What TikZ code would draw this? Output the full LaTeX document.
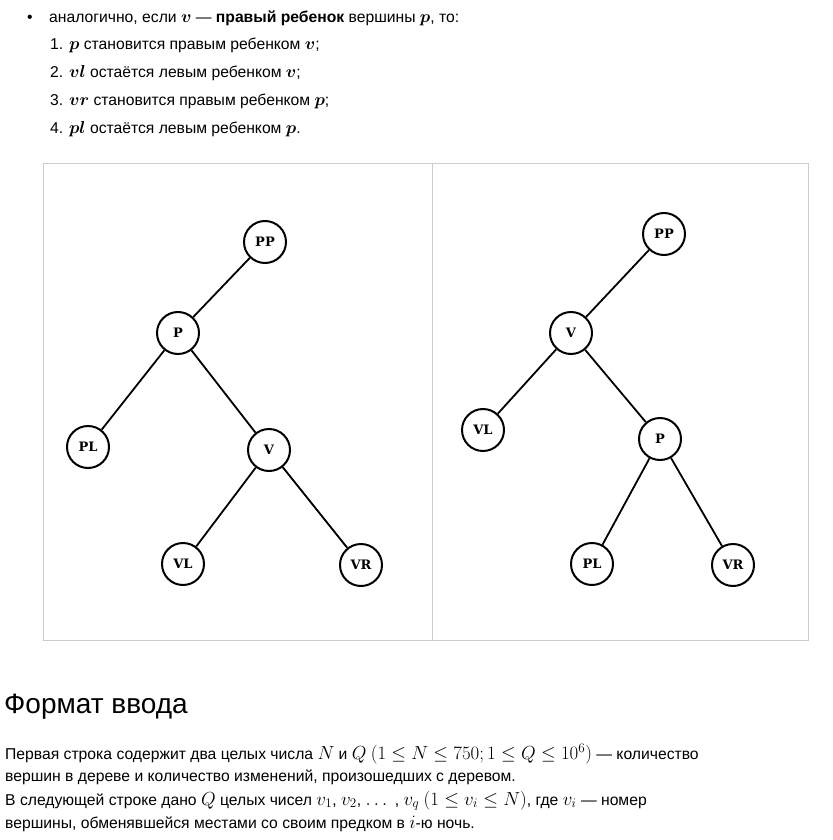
\documentclass[tikz,border=0pt]{standalone}
\usepackage{amsmath}
\usepackage{bm}
\usepackage{graphicx}
\usepackage{fontspec}
\setmainfont{Liberation Sans}
\newfontfamily\vertexfont{DejaVu Serif}
\usepackage{tikz}
\usetikzlibrary{positioning}
\usepackage{color}
\definecolor{framegray}{RGB}{204, 204, 204}
\newcommand{\mth}[1]{\scalebox{1.094}{\fontsize{17.28}{20}\selectfont$#1$}}
\newcommand{\bmth}[1]{{\fontsize{17.28}{20}\selectfont$\bm{#1}$}}
\tikzset{
  vertex/.style={circle, draw, line width=2pt, minimum size=42pt, inner sep=0pt,
                 font=\vertexfont\bfseries\fontsize{13}{13}\selectfont},
  edge/.style={line width=1.8pt},
  txt/.style={anchor=base west, inner sep=0pt, font=\fontsize{15.7}{18}\selectfont},
}

\begin{document}
\begin{tikzpicture}[x=1pt, y=-1pt]
            \useasboundingbox (0,0) rectangle (832,840);
            % text above the trees
            \node[txt] (bullet) at (27,23)  {\textbullet};
            \node[txt] (intro)  at (49,23)  {аналогично, если \bmth{v} — \textbf{правый ребенок} вершины \bmth{p}, то:};
            \node[txt] (item1)  at (50,50)  {1. \bmth{p} становится правым ребенком \bmth{v};};
            \node[txt] (item2)  at (50,78)  {2. \bmth{vl} остаётся левым ребенком \bmth{v};};
            \node[txt] (item3)  at (50,106) {3. \bmth{vr} становится правым ребенком \bmth{p};};
            \node[txt] (item4)  at (50,134) {4. \bmth{pl} остаётся левым ребенком \bmth{p}.};
            % frames
            \draw[framegray, line width=1pt] (43.5,163.5) rectangle (432.5,640);
            \draw[framegray, line width=1pt] (432.5,163.5) rectangle (808.5,640);
            % tree before
            \node[vertex] (lpp) at (265,242) {PP};
            \node[vertex] (lp)  at (178,333) {P};
            \node[vertex] (lpl) at (88,447)  {PL};
            \node[vertex] (lv)  at (269,450) {V};
            \node[vertex] (lvl) at (183,564) {VL};
            \node[vertex] (lvr) at (361,565) {VR};
            \draw[edge] (lpp) -- (lp);
            \draw[edge] (lp) -- (lpl);
            \draw[edge] (lp) -- (lv);
            \draw[edge] (lv) -- (lvl);
            \draw[edge] (lv) -- (lvr);
            % tree after
            \node[vertex] (rpp) at (664,234) {PP};
            \node[vertex] (rv)  at (571,333) {V};
            \node[vertex] (rvl) at (483,430) {VL};
            \node[vertex] (rp)  at (660,439) {P};
            \node[vertex] (rpl) at (592,564) {PL};
            \node[vertex] (rvr) at (733,565) {VR};
            \draw[edge] (rpp) -- (rv);
            \draw[edge] (rv) -- (rvl);
            \draw[edge] (rv) -- (rp);
            \draw[edge] (rp) -- (rpl);
            \draw[edge] (rp) -- (rvr);
            % text below the trees
            \node[anchor=base west, inner sep=0pt, font=\fontsize{28}{32}\selectfont] (head) at (4,713) {Формат ввода};
            \node[txt] (line1) at (5,759) {Первая строка содержит два целых числа \mth{N} и \mth{Q} \mth{(1 \leq N \leq 750; 1 \leq Q \leq 10^6)} — количество};
            \node[txt] (line2) at (5,781) {вершин в дереве и количество изменений, произошедших с деревом.};
            \node[txt] (line3) at (5,805) {В следующей строке дано \mth{Q} целых чисел \mth{v_1}, \mth{v_2}, \mth{\dots} , \mth{v_q} \mth{(1 \leq v_i \leq N)}, где \mth{v_i} — номер};
            \node[txt] (line4) at (5,828) {вершины, обменявшейся местами со своим предком в \mth{i}-ю ночь.};
        \end{tikzpicture}
\end{document}
